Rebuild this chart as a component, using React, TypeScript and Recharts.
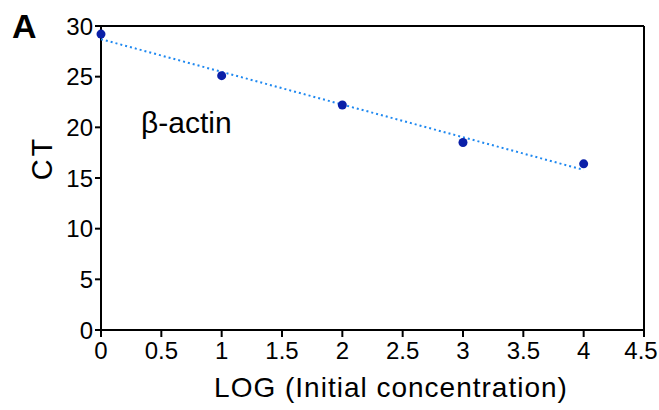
import { ScatterChart, Scatter, XAxis, YAxis, ReferenceLine } from 'recharts';

const logConc = [0, 1, 2, 3, 4];
const ctValues = [29.2, 25.1, 22.2, 18.5, 16.4];
const fitX = [0, 4];
const fitY = [28.7, 15.8];
const xTicks = [0, 0.5, 1, 1.5, 2, 2.5, 3, 3.5, 4, 4.5];
const yTicks = [0, 5, 10, 15, 20, 25, 30];

const points = logConc.map((x, i) => ({ x, y: ctValues[i] }));
const fit = fitX.map((x, i) => ({ x, y: fitY[i] }));

const font = '"Liberation Sans", Arial, sans-serif';

// last tick label sits on the right edge, nudge it in a little
function XTick(props: any) {
  const { x, y, payload } = props;
  const last = payload.value === xTicks[xTicks.length - 1];
  return (
    <text
      x={last ? x - 3 : x}
      y={y}
      dy="0.71em"
      textAnchor="middle"
      fill="#000"
      fontSize={24}
      fontFamily={font}
    >
      {payload.value}
    </text>
  );
}

export default function App() {
  return (
    <div style={{ position: 'absolute', left: 0, top: 0, background: '#fff' }}>
      <ScatterChart width={659} height={410} margin={{ top: 26, right: 15, bottom: 0, left: 0 }}>
        <XAxis
          type="number"
          dataKey="x"
          domain={[0, 4.5]}
          ticks={xTicks}
          interval={0}
          height={80}
          tickSize={7}
          tickMargin={5}
          axisLine={{ stroke: '#000', strokeWidth: 2 }}
          tickLine={{ stroke: '#000', strokeWidth: 2 }}
          tick={<XTick />}
          label={() => (
            <text x={391} y={397} textAnchor="middle" fill="#000" fontSize={28} letterSpacing={1} fontFamily={font}>
              LOG (Initial concentration)
            </text>
          )}
        />
        <YAxis
          type="number"
          dataKey="y"
          domain={[0, 30]}
          ticks={yTicks}
          interval={0}
          width={101}
          tickSize={6}
          tickMargin={2}
          axisLine={{ stroke: '#000', strokeWidth: 2 }}
          tickLine={{ stroke: '#000', strokeWidth: 2 }}
          tick={{ fill: '#000', fontSize: 24, fontFamily: font }}
          label={() => (
            <text
              x={42}
              y={158}
              transform="rotate(-90 42 158)"
              textAnchor="middle"
              dominantBaseline="central"
              fill="#000"
              fontSize={29}
              letterSpacing={3}
              fontFamily={font}
            >
              CT
            </text>
          )}
        />
        <ReferenceLine y={30} stroke="#000" strokeWidth={2} />
        <ReferenceLine x={4.5} stroke="#000" strokeWidth={2} />
        <Scatter
          data={fit}
          isAnimationActive={false}
          line={{ stroke: '#1e88f0', strokeWidth: 2, strokeDasharray: '2 3' }}
          shape={() => <g />}
        />
        <Scatter
          data={points}
          isAnimationActive={false}
          fill="#0a1fa8"
          shape={(p: any) => <circle cx={p.cx} cy={p.cy} r={4.5} fill="#0a1fa8" />}
        />
      </ScatterChart>
      <svg width={659} height={410} style={{ position: 'absolute', left: 0, top: 0, pointerEvents: 'none' }}>
        <text x={12} y={38} fontSize={34} fontWeight="bold" fontFamily={font} fill="#000">
          A
        </text>
        <text x={141} y={133} fontSize={30} fontFamily={font} fill="#000">
          β-actin
        </text>
      </svg>
    </div>
  );
}
